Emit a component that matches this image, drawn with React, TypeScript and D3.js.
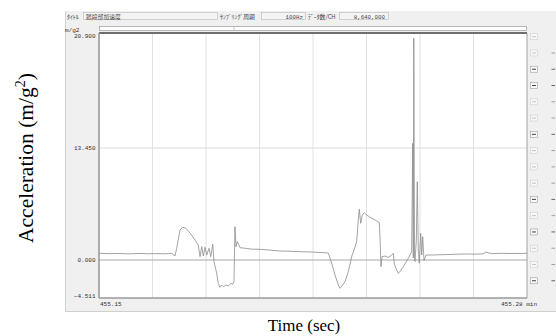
import React from "react";
import * as d3 from "d3";

// Recording window (minutes) shown on the time axis
const startMin = 455.15;
const endMin = 455.28;
const xTickLabels = ["455.15", "455.28 min"];

// Vertical scale marks shown on the left of the trace
const yTickValues = [20.9, 13.45, 0, -4.511];
const yUnit = "m/g2";

// Header fields of the recorder window
const headerTitleLabel = "ﾀｲﾄﾙ";
const headerTitle = "踏段部加速度";
const headerRateLabel = "ｻﾝﾌﾟﾘﾝｸﾞ周期";
const headerRate = "100Hz";
const headerCountLabel = "ﾃﾞｰﾀ数/CH";
const headerCount = "8,640,000";

// Trace: elapsed seconds from window start and acceleration value
const timeSec = [
  0, 0.2, 0.35, 0.55, 0.75, 0.9, 1.05, 1.2, 1.325, 1.385, 1.416, 1.476, 1.525, 1.585,
  1.658, 1.75, 1.81, 1.841, 1.872, 1.901, 1.932, 1.963, 2.005, 2.036, 2.072, 2.096,
  2.145, 2.174, 2.205, 2.236, 2.265, 2.314, 2.356, 2.4, 2.437, 2.46, 2.478, 2.497,
  2.52, 2.57, 2.661, 2.8, 2.934, 3.1, 3.299, 3.48, 3.663, 3.9, 4.05, 4.179, 4.241,
  4.301, 4.361, 4.392, 4.441, 4.483, 4.543, 4.605, 4.647, 4.696, 4.725, 4.744, 4.769,
  4.798, 4.835, 4.879, 4.939, 5.03, 5.108, 5.121, 5.139, 5.157, 5.212, 5.272, 5.334,
  5.363, 5.381, 5.412, 5.454, 5.485, 5.545, 5.637, 5.699, 5.717, 5.728, 5.737, 5.75,
  5.759, 5.783, 5.801, 5.819, 5.837, 5.863, 5.881, 5.899, 5.923, 5.959, 6.092, 6.25,
  6.4, 6.55, 6.701, 6.85, 7.0, 7.05, 7.15, 7.308, 7.55, 7.8,
];
const accel = [
  0.8, 0.76, 0.78, 0.74, 0.79, 0.75, 0.77, 0.74, 0.8, 0.48, 1.41, 3.6, 3.93, 3.81,
  3.24, 2.4, 1.8, 0.4, 1.6, 0.48, 1.53, 0.6, 1.41, 0.4, 1.89, -0.2,
  -1.58, -2.77, -3.24, -2.97, -3.17, -2.97, -3.09, -2.77, -2.88, -2.58, 4.0, 1.6,
  2.2, 1.48, 1.41, 1.3, 1.28, 1.2, 1.08, 1.05, 1.0, 0.95, 0.9, 0.84, -0.39,
  -1.78, -2.97, -3.36, -2.97, -2.58, -1.39, 0.4, 1.2, 2.2, 4.8, 6.09, 4.41,
  5.4, 5.68, 5.4, 5.13, 4.8, 4.48, 2.8, -0.8, 0.4, 0.48, 0.32, 0.6,
  0.8, -0.39, -0.99, -1.58, -1.39, -0.8, 0.2, 1.0, 13.75, 0.24, 20.56, 0.6,
  -0.2, 2.4, 9.4, 1.2, -0.39, 3.21, 0.6, 2.8, -0.06, 0.6, 0.6, 0.64,
  0.66, 0.7, 0.72, 0.7, 0.74, 0.95, 0.76, 0.8, 0.78, 0.8,
];

// Channel selector buttons on the right edge (1 = active/dark)
const channelStates = [0, 0, 1, 1, 0, 0, 1, 0, 0, 0, 1, 0, 1, 0, 0, 1];

const W = 556;
const H = 336;
const plot = { left: 99, right: 527, top: 33, bottom: 298 };
const monoFont = "'Liberation Mono', 'DejaVu Sans Mono', monospace";
const jpFont = "'Noto Sans CJK JP', sans-serif";
const serif = "'Liberation Serif', 'Times New Roman', serif";

export default function App() {
  const duration = (endMin - startMin) * 60;
  const x = d3.scaleLinear().domain([0, duration]).range([plot.left, plot.right]);
  const y = d3
    .scaleLinear()
    .domain([-4.511, 0, 13.45, 20.9])
    .range([plot.bottom, 260, 148, plot.top]);

  const gridTimes = d3.range(1, 8).map((i) => (duration * i) / 8);
  const points = timeSec.map((t, i) => [t, accel[i]] as [number, number]);
  const line = d3
    .line<[number, number]>()
    .x((d) => x(d[0]))
    .y((d) => y(d[1]));

  const fmt = d3.format(".3f");
  const btnY = d3.range(channelStates.length).map((i) => 36.7 + i * 16.27);

  return (
    <svg
      width={W}
      height={H}
      style={{ position: "absolute", left: 0, top: 0, display: "block", background: "#fff" }}
    >
      {/* recorder window panel */}
      <rect x={65} y={11} width={W - 65} height={300} fill="#f0f0f0" />
      <line x1={65.5} y1={11} x2={65.5} y2={311} stroke="#cfcfcf" />
      <line x1={65} y1={311.5} x2={W} y2={311.5} stroke="#cfcfcf" />

      {/* header */}
      <g fontFamily={jpFont} fontSize={5.8} fill="#444">
        <text x={67} y={18.5}>{headerTitleLabel}</text>
        <rect x={83.5} y={12.5} width={134} height={7} fill="#f4f4f4" stroke="#b8b8b8" strokeWidth={0.6} />
        <text x={86} y={18.5}>{headerTitle}</text>
        <text x={220} y={18.5}>{headerRateLabel}</text>
        <rect x={261.5} y={12.5} width={44} height={7} fill="#f4f4f4" stroke="#b8b8b8" strokeWidth={0.6} />
        <text x={303} y={18.5} textAnchor="end" fontFamily={monoFont}>{headerRate}</text>
        <text x={308} y={18.5}>{headerCountLabel}</text>
        <rect x={339.5} y={12.5} width={49} height={7} fill="#f4f4f4" stroke="#b8b8b8" strokeWidth={0.6} />
        <text x={385} y={18.5} textAnchor="end" fontFamily={monoFont}>{headerCount}</text>
      </g>

      {/* scroll bar above the trace */}
      <rect x={99.5} y={26.5} width={427} height={4} fill="#fff" stroke="#9a9a9a" strokeWidth={0.7} />
      <line x1={234} y1={26.5} x2={234} y2={30.5} stroke="#b0b0b0" strokeWidth={0.7} />

      {/* plot area */}
      <rect x={plot.left} y={plot.top} width={plot.right - plot.left} height={plot.bottom - plot.top} fill="#fff" />
      {gridTimes.map((t) => (
        <line key={t} x1={x(t)} x2={x(t)} y1={plot.top} y2={plot.bottom} stroke="#e2e2e2" strokeWidth={1} />
      ))}
      <line x1={plot.left} x2={plot.right} y1={y(13.45)} y2={y(13.45)} stroke="#dcdcdc" strokeWidth={1} />
      <line x1={plot.left} x2={plot.right} y1={y(0)} y2={y(0)} stroke="#a8a8a8" strokeWidth={1} />

      <path d={line(points) ?? ""} fill="none" stroke="#8c8c8c" strokeWidth={0.8} strokeLinejoin="round" />

      {/* frame */}
      <line x1={plot.left} x2={plot.right} y1={plot.top} y2={plot.top} stroke="#6e6e6e" strokeWidth={2.2} />
      <line x1={plot.left} x2={plot.left} y1={plot.top} y2={plot.bottom} stroke="#9a9a9a" strokeWidth={1.6} />
      <line x1={plot.left} x2={plot.right} y1={plot.bottom} y2={plot.bottom} stroke="#9a9a9a" strokeWidth={1.4} />
      <line x1={plot.right} x2={plot.right} y1={plot.top} y2={plot.bottom} stroke="#a0a0a0" strokeWidth={1} />

      {/* y scale labels */}
      <g fontFamily={monoFont} fontSize={6} fill="#333">
        <text x={65} y={32}>{yUnit}</text>
        {yTickValues.map((v, i) => {
          let yy = y(v) + 2.2;
          if (i === 0) yy = y(v) + 5;
          if (i === yTickValues.length - 1) yy = y(v) - 0.5;
          return (
            <text key={v} x={95.5} y={yy} textAnchor="end">
              {fmt(v)}
            </text>
          );
        })}
        <text x={100} y={306}>{xTickLabels[0]}</text>
        <text x={537} y={306} textAnchor="end">{xTickLabels[1]}</text>
      </g>

      {/* channel buttons */}
      {channelStates.map((s, i) => (
        <g key={i}>
          <rect x={530.5} y={btnY[i] - 3} width={7} height={6} fill="#f8f8f8" stroke={s ? "#a0a0a0" : "#cfcfcf"} strokeWidth={0.6} />
          <line x1={532} x2={536} y1={btnY[i]} y2={btnY[i]} stroke={s ? "#303030" : "#bdbdbd"} strokeWidth={0.9} />
          {i > 0 && (
            <line x1={551.5} x2={555} y1={btnY[i]} y2={btnY[i]} stroke={s ? "#404040" : "#8a8a8a"} strokeWidth={0.8} />
          )}
        </g>
      ))}

      {/* figure axis titles */}
      <text x={304} y={331} textAnchor="middle" fontFamily={serif} fontSize={17} fill="#000">
        Time (sec)
      </text>
      <text
        transform="translate(33,158) rotate(-90)"
        textAnchor="middle"
        fontFamily={serif}
        fontSize={21.5}
        fill="#000"
      >
        Acceleration (m/g<tspan dy={-8} fontSize={14}>2</tspan><tspan dy={8}>)</tspan>
      </text>
    </svg>
  );
}
